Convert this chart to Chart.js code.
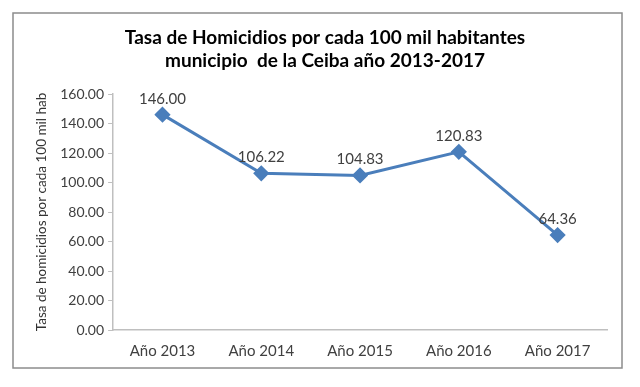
<!DOCTYPE html>
<html><head><meta charset="utf-8">
<script src="https://cdn.jsdelivr.net/npm/chart.js@4/dist/chart.umd.min.js"></script>
<style>html,body{margin:0;padding:0;background:#fff;}#wrap{position:relative;width:640px;height:387px;}</style>
</head><body><div id="wrap"><canvas id="c" width="640" height="387"></canvas></div>
<script>
const categories = ["Año 2013","Año 2014","Año 2015","Año 2016","Año 2017"];
const rates = [146.00, 106.22, 104.83, 120.83, 64.36];
const titleLines = ["Tasa de Homicidios por cada 100 mil habitantes","municipio  de la Ceiba año 2013-2017"];
const yTitle = "Tasa de homicidios por cada 100 mil hab";
const FONT = "Lato, 'Open Sans', sans-serif";

const frame = {
  id:'frame',
  beforeDraw(chart){
    const ctx=chart.ctx; ctx.save();
    ctx.fillStyle='#fff'; ctx.fillRect(0,0,chart.width,chart.height);
    ctx.strokeStyle='#8c8c8c'; ctx.lineWidth=1.5;
    ctx.strokeRect(13,13,609,355);
    ctx.fillStyle='#000'; ctx.font="bold 19px "+FONT; ctx.textAlign='center'; ctx.textBaseline='alphabetic';
    ctx.fillText(titleLines[0],325,44);
    ctx.fillText(titleLines[1],325,67);
    ctx.restore();
  }
};
const labelsPlugin = {
  id:'pointLabels',
  afterDatasetsDraw(chart){
    const ctx=chart.ctx; const meta=chart.getDatasetMeta(0);
    ctx.save(); ctx.font="15px "+FONT; ctx.fillStyle='#404040';
    ctx.textAlign='center'; ctx.textBaseline='alphabetic';
    meta.data.forEach((pt,i)=>{ ctx.fillText(rates[i].toFixed(2), pt.x, pt.y-11); });
    ctx.restore();
  }
};
new Chart(document.getElementById('c'),{
  type:'line',
  data:{labels:categories,datasets:[{data:rates,borderColor:'#4a7ebb',backgroundColor:'#4a7ebb',borderWidth:3,
    pointStyle:'rectRot',pointRadius:6,pointHoverRadius:6,tension:0}]},
  options:{responsive:false,animation:false,
    layout:{padding:{left:30,right:33,top:94,bottom:15}},
    plugins:{legend:{display:false},tooltip:{enabled:false},title:{display:false}},
    scales:{
      x:{offset:true,grid:{display:false,drawTicks:false},border:{color:'#bfbfbf',width:1.5},
        ticks:{color:'#404040',font:{family:FONT,size:15},padding:12}},
      y:{min:0,max:160,grid:{drawOnChartArea:false,tickLength:5,color:'#bfbfbf'},border:{color:'#bfbfbf',width:1.5},
        ticks:{stepSize:20,color:'#404040',font:{family:FONT,size:14},padding:4,callback:v=>Number(v).toFixed(2)},
        title:{display:true,text:yTitle,color:'#333',font:{family:FONT,size:13.5},padding:{top:4,bottom:6}}}
    }
  },
  plugins:[frame,labelsPlugin]
});
</script></body></html>
